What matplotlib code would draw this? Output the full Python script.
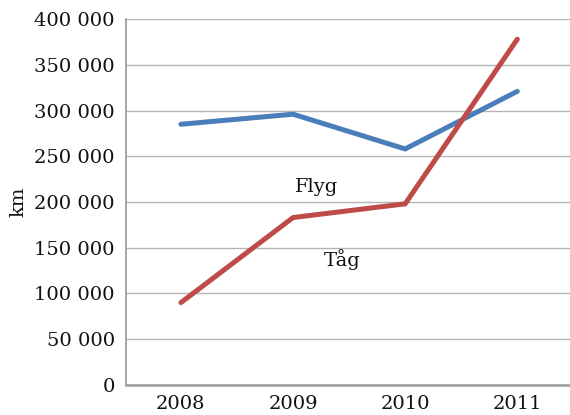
import matplotlib
matplotlib.use("Agg")
import matplotlib.pyplot as plt
from matplotlib.ticker import FuncFormatter, MultipleLocator

# ---------- Data ----------
years = ["2008", "2009", "2010", "2011"]
flyg = [285000, 296000, 258000, 321000]
tag = [90000, 183000, 198000, 378000]

plt.rcParams['font.family'] = ['DejaVu Serif']

# ---------- Plot ----------
fig = plt.figure(figsize=(5.7, 4.15), dpi=100)
ax = fig.add_axes([0.221, 0.0725, 0.779, 0.8815])

x = range(len(years))
ax.plot(x, flyg, color='#4a7ebb', lw=3.6, solid_capstyle='round', solid_joinstyle='miter', zorder=3)
ax.plot(x, tag, color='#be4b48', lw=3.6, solid_capstyle='round', solid_joinstyle='miter', zorder=3)

ax.text(1.214, 216000, "Flyg", ha='center', va='center', fontsize=14, color='#111111')
ax.text(1.44, 137500, "Tåg", ha='center', va='center', fontsize=14, color='#111111')

# ---------- Styling ----------
ax.set_xlim(-0.49, 3.47)
ax.set_ylim(0, 400000)
ax.set_xticks(list(x))
ax.set_xticklabels(years)
ax.yaxis.set_major_locator(MultipleLocator(50000))
ax.yaxis.set_major_formatter(FuncFormatter(lambda v, p: f"{int(v):,}".replace(",", " ")))
ax.tick_params(axis='both', length=0, labelsize=14, colors='#111111')
ax.tick_params(axis='y', pad=8)
ax.tick_params(axis='x', pad=7)

ax.grid(axis='y', color='#b4b4b4', lw=1.0)
ax.set_axisbelow(True)
for s in ['top', 'right']:
    ax.spines[s].set_visible(False)
ax.spines['left'].set_color('#a0a0a0')
ax.spines['left'].set_linewidth(1.3)
ax.spines['bottom'].set_color('#9a9a9a')
ax.spines['bottom'].set_linewidth(1.8)

ax.set_ylabel("km", fontsize=14, color='#111111')
ax.yaxis.set_label_coords(-0.222, 0.5)

fig.savefig("out.png", dpi=100)
